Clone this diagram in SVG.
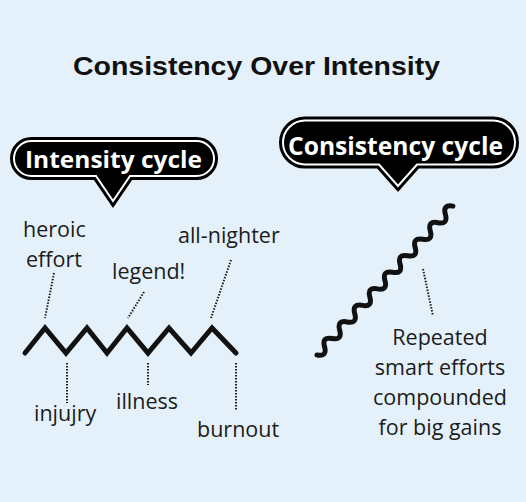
<svg xmlns="http://www.w3.org/2000/svg" width="526" height="502" viewBox="0 0 526 502">
<style>
.title{font-family:"Liberation Sans",Arial,sans-serif;font-weight:bold;font-size:25px;fill:#111;text-anchor:middle}
.lbl{font-family:"Open Sans","Noto Sans",sans-serif;font-size:21.5px;fill:#1c1c1c}
.lblc{font-family:"Open Sans","Noto Sans",sans-serif;font-size:21.5px;fill:#1c1c1c;text-anchor:middle}
.btxt{font-family:"Open Sans","Noto Sans",sans-serif;font-weight:bold;fill:#fff;text-anchor:middle}
.bout{fill:#000;stroke:#000;stroke-width:8;stroke-linejoin:miter}
.bin{fill:#000;stroke:#fff;stroke-width:2;stroke-linejoin:miter}
.dot{fill:none;stroke:#1c1c1c;stroke-width:2;stroke-dasharray:1.5 1.5}
.line{fill:none;stroke:#111;stroke-width:5;stroke-linecap:round}
</style>
<rect width="526" height="502" fill="#e4f1fa"/>
<text class="title" x="256.5" y="75" textLength="367" lengthAdjust="spacingAndGlyphs">Consistency Over Intensity</text>

<g id="intensity-bubble">
<path class="bout" d="M31.5,141 H196.5 A17.5,17.5 0 0 1 196.5,176 H130 L113,201 L96,176 H31.5 A17.5,17.5 0 0 1 31.5,141 Z"/>
<path class="bin" d="M31.5,141 H196.5 A17.5,17.5 0 0 1 196.5,176 H130 L113,201 L96,176 H31.5 A17.5,17.5 0 0 1 31.5,141 Z"/>
<text class="btxt" x="113.5" y="167.5" font-size="23" textLength="177" lengthAdjust="spacingAndGlyphs">Intensity cycle</text>
</g>

<g id="consistency-bubble">
<path class="bout" d="M305,120.5 H493 A22,22 0 0 1 493,164.5 H417 L398,186 L379,164.5 H305 A22,22 0 0 1 305,120.5 Z"/>
<path class="bin" d="M305,120.5 H493 A22,22 0 0 1 493,164.5 H417 L398,186 L379,164.5 H305 A22,22 0 0 1 305,120.5 Z"/>
<text class="btxt" x="395.5" y="155" font-size="25" textLength="215" lengthAdjust="spacingAndGlyphs">Consistency cycle</text>
</g>

<g id="zigzag">
<path class="line" stroke-linejoin="miter" d="M25,353 L45,328 L66,353 L87,328 L107,353 L127,328 L148,353 L169,328 L191,353 L212,328 L236,353"/>
</g>

<g id="wave">
<path class="line" stroke-width="4" transform="translate(317,355) rotate(-47.6)" d="M0,0 q5.6,9 11.2,0 t11.2,0 t11.2,0 t11.2,0 t11.2,0 t11.2,0 t11.2,0 t11.2,0 t11.2,0 t11.2,0 t11.2,0 t11.2,0 t11.2,0 t11.2,0 t11.2,0 t11.2,0 t11.2,0 t11.2,0"/>
</g>

<g id="connectors">
<line class="dot" x1="54" y1="273" x2="45" y2="318"/>
<line class="dot" x1="144" y1="292" x2="128" y2="318"/>
<line class="dot" x1="231" y1="260" x2="211" y2="318"/>
<line class="dot" x1="67" y1="363" x2="67" y2="403"/>
<line class="dot" x1="148" y1="363" x2="148" y2="385"/>
<line class="dot" x1="236" y1="363" x2="236" y2="410"/>
<line class="dot" x1="423" y1="269" x2="433" y2="316"/>
</g>

<g id="label-heroic"><text class="lbl" x="23" y="237">heroic</text><text class="lbl" x="26" y="267">effort</text></g>
<g id="label-legend"><text class="lbl" x="112" y="279">legend!</text></g>
<g id="label-allnighter"><text class="lbl" x="178" y="243">all-nighter</text></g>
<g id="label-injujry"><text class="lbl" x="34" y="421">injujry</text></g>
<g id="label-illness"><text class="lbl" x="116" y="409">illness</text></g>
<g id="label-burnout"><text class="lbl" x="197" y="437">burnout</text></g>
<g id="label-repeated">
<text class="lblc" x="440" y="345">Repeated</text>
<text class="lblc" x="440" y="375">smart efforts</text>
<text class="lblc" x="440" y="405">compounded</text>
<text class="lblc" x="440" y="435">for big gains</text>
</g>
</svg>
